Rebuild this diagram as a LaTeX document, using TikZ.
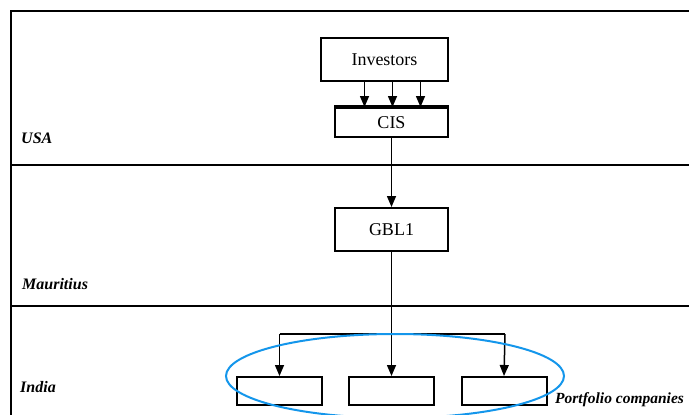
\documentclass[tikz,border=0pt]{standalone}
\usepackage{fontspec}
\setmainfont{Liberation Serif}
\usetikzlibrary{arrows.meta}
\definecolor{ellblue}{RGB}{20,150,235}
\tikzset{
  box/.style={draw,line width=2pt,inner sep=0pt,font=\fontsize{18}{20}\selectfont},
  lbl/.style={font=\fontsize{16}{18}\selectfont\bfseries\itshape,anchor=west,inner sep=0pt},
  arr/.style={-{Triangle[length=11pt,width=9pt]},line width=1.5pt},
  conn/.style={line width=1.5pt}
}
\begin{document}
\begin{tikzpicture}[x=1pt,y=-1pt]
\useasboundingbox (0,0) rectangle (689,415);
% frame and bands
\draw[line width=1.8pt] (11,430) -- (11,11) -- (700,11);
\draw[line width=1.5pt] (11,165) -- (700,165);
\draw[line width=2.2pt] (11,306) -- (700,306);
% labels
\node[lbl] (usa) at (21,138) {USA};
\node[lbl] (mau) at (22,284) {Mauritius};
\node[lbl] (ind) at (20,387) {India};
\node[lbl,font=\fontsize{15.5}{18}\selectfont\bfseries\itshape] (pc) at (555,400) {Portfolio companies};
% boxes
\node[box,minimum width=127pt,minimum height=43pt] (inv) at (384.5,59.5) {Investors};
\node[box,minimum width=113pt,minimum height=29pt] (cis) at (391.5,122.5) {CIS};
\draw[line width=3.2pt] (cis.north west) -- (cis.north east);
\node[box,minimum width=113pt,minimum height=43pt] (gbl) at (391.5,229.5) {GBL1};
\node[box,minimum width=85pt,minimum height=28pt] (p1) at (279.5,391) {};
\node[box,minimum width=85pt,minimum height=28pt] (p2) at (391.5,391) {};
\node[box,minimum width=85pt,minimum height=28pt] (p3) at (504,391) {};
% arrows
\draw[arr] ([xshift=-20pt]inv.south) -- ([xshift=-27pt]cis.north);
\draw[arr] ([xshift=8pt]inv.south) -- ([xshift=1pt]cis.north);
\draw[arr] ([xshift=36pt]inv.south) -- ([xshift=29pt]cis.north);
\draw[arr] (cis.south) -- (gbl.north);
\coordinate (bl) at (279.5,334);
\coordinate (br) at (505,334);
\draw[conn] (bl) -- (br);
\draw[arr] (gbl.south) -- (p2.north);
\draw[arr] (bl) -- (p1.north);
\draw[arr] (br) -- (p3.north);
% ellipse
\draw[ellblue,line width=2pt] (395,376) ellipse [x radius=169pt,y radius=42pt];
\end{tikzpicture}
\end{document}
